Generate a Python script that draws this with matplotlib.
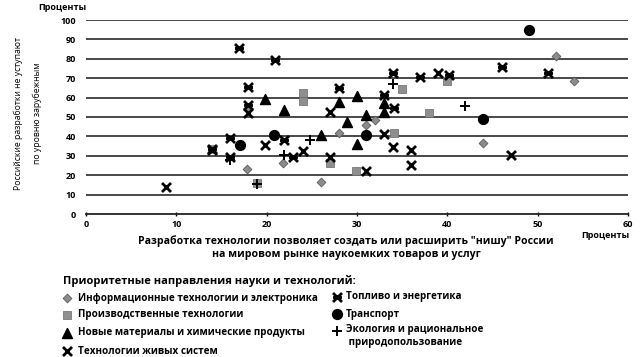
import matplotlib
matplotlib.use("Agg")
import matplotlib.pyplot as plt
from matplotlib.path import Path

plt.rcParams['font.family'] = ['Open Sans', 'DejaVu Sans']

# ---- data (x: niche %, y: not inferior %) ----
it_x = [17.8, 21.8, 26.0, 28.0, 31.0, 32.0, 44.0, 52.0, 54.0, 17.9]
it_y = [23.3, 26.2, 16.3, 41.7, 45.8, 48.6, 36.5, 81.7, 68.8, 54.0]

prod_x = [13.9, 18.9, 24.0, 24.0, 27.0, 29.9, 34.1, 35.0, 38.0, 40.0]
prod_y = [33.4, 16.2, 62.5, 58.5, 26.3, 22.4, 41.5, 64.6, 52.0, 68.4]

mat_x = [19.8, 21.9, 26.0, 28.0, 28.9, 30.0, 30.0, 31.0, 33.0, 33.0]
mat_y = [59.4, 53.4, 40.5, 57.5, 47.4, 61.0, 36.3, 51.2, 57.2, 52.6]

bio_x = [8.9, 14.0, 17.9, 19.8, 24.0, 27.0, 27.0, 31.0, 33.0, 34.0, 36.0, 36.0, 39.0, 47.0]
bio_y = [13.8, 33.0, 52.0, 35.5, 32.3, 52.6, 29.6, 22.3, 41.3, 34.6, 33.2, 25.5, 72.7, 30.5]

fuel_x = [16.9, 20.9, 17.9, 17.9, 15.9, 13.9, 15.9, 21.9, 22.9, 28.0, 33.0, 34.0, 34.1, 37.0, 40.2, 46.1, 51.1]
fuel_y = [85.5, 79.2, 65.4, 56.0, 39.3, 33.4, 29.5, 38.4, 29.3, 64.7, 61.5, 72.5, 54.6, 70.8, 71.5, 75.8, 72.7]

tr_x = [17.0, 20.8, 31.0, 44.0, 49.0]
tr_y = [35.7, 40.8, 40.6, 48.8, 94.7]

eco_x = [15.9, 18.9, 21.9, 24.8, 34.0, 42.0]
eco_y = [28.0, 15.5, 30.5, 38.4, 66.8, 55.8]

yticks = [0, 10, 20, 30, 40, 50, 60, 70, 80, 90, 100]
xticks = [0, 10, 20, 30, 40, 50, 60]

legend_left = ["Информационные технологии и электроника",
               "Производственные технологии",
               "Новые материалы и химические продукты",
               "Технологии живых систем"]
legend_right = ["Топливо и энергетика",
                "Транспорт",
                "Экология и рациональное\n природопользование"]

# ---- styles ----
fuel_marker = Path([(-1, -1), (1, 1), (-1, 1), (1, -1), (-1, 0), (1, 0)],
                   [Path.MOVETO, Path.LINETO, Path.MOVETO, Path.LINETO,
                    Path.MOVETO, Path.LINETO])

styles = {
    'it':   dict(marker='D', s=20, c='#8c8c8c', edgecolors='#5a5a5a', linewidths=0.6),
    'prod': dict(marker='s', s=38, c='#8f8f8f', edgecolors='#6a6a6a', linewidths=0.5),
    'mat':  dict(marker='^', s=52, c='black'),
    'bio':  dict(marker='x', s=42, c='black', linewidths=2.0),
    'fuel': dict(marker=fuel_marker, s=42, c='black', linewidths=2.0),
    'tr':   dict(marker='o', s=50, c='black'),
    'eco':  dict(marker='+', s=58, c='black', linewidths=1.4),
}

fig = plt.figure(figsize=(6.44, 3.57), dpi=100)
ax = fig.add_axes([86/644, 1-214/357, 542/644, 194/357])

for yv in yticks[1:]:
    ax.axhline(yv, color='#3a3a3a', lw=1.3, zorder=1)

ax.scatter(it_x, it_y, zorder=3, **styles['it'])
ax.scatter(prod_x, prod_y, zorder=3, **styles['prod'])
ax.scatter(mat_x, mat_y, zorder=3, **styles['mat'])
ax.scatter(bio_x, bio_y, zorder=3, **styles['bio'])
ax.scatter(fuel_x, fuel_y, zorder=3, **styles['fuel'])
ax.scatter(tr_x, tr_y, zorder=3, **styles['tr'])
ax.scatter(eco_x, eco_y, zorder=3, **styles['eco'])

ax.set_xlim(0, 60)
ax.set_ylim(0, 100)
ax.set_xticks(xticks)
ax.set_yticks(yticks)
for s in ['top', 'right', 'left']:
    ax.spines[s].set_visible(False)
ax.spines['bottom'].set_linewidth(1.3)
ax.spines['bottom'].set_color('#222222')
ax.tick_params(axis='y', length=0, pad=7, labelsize=6.5)
ax.tick_params(axis='x', length=3, direction='inout', width=1, pad=3, labelsize=6.5)
for lab in ax.get_xticklabels() + ax.get_yticklabels():
    lab.set_fontweight('bold')
ax.set_facecolor('none')

fig.text(62/644, 1-7/357, "Проценты", fontsize=6.5, fontweight='bold', ha='center', va='center')
fig.text(605/644, 1-236/357, "Проценты", fontsize=6.5, fontweight='bold', ha='center', va='center')
fig.text(346/644, 1-248/357, 'Разработка технологии позволяет создать или расширить "нишу" России\nна мировом рынке наукоемких товаров и услуг',
         fontsize=7.6, fontweight='bold', ha='center', va='center', linespacing=1.25)
fig.text(28/644, 1-113/357, "Российские разработки не уступают\nпо уровню зарубежным",
         fontsize=6.2, rotation=90, ha='center', va='center', linespacing=2.3)

# ---- legend ----
fig.text(63/644, 1-281/357, "Приоритетные направления науки и технологий:",
         fontsize=8, fontweight='bold', ha='left', va='center')

ov = fig.add_axes([0, 0, 1, 1], facecolor='none')
ov.set_axis_off()
ov.set_xlim(0, 644)
ov.set_ylim(357, 0)

LFS = 7.1
left_y = [298, 315, 333, 351]
for key, txt, yy in zip(['it', 'prod', 'mat', 'bio'], legend_left, left_y):
    ov.scatter([67], [yy], **styles[key])
    fig.text(78/644, 1-yy/357, txt, fontsize=LFS, fontweight='bold', ha='left', va='center')

right_y = [297, 314, 331]
for key, txt, yy in zip(['fuel', 'tr', 'eco'], legend_right, right_y):
    ov.scatter([337], [yy], **styles[key])
    if '\n' in txt:
        fig.text(346/644, 1-(yy-7)/357, txt, fontsize=LFS, fontweight='bold', ha='left', va='top', linespacing=1.3)
    else:
        fig.text(346/644, 1-yy/357, txt, fontsize=LFS, fontweight='bold', ha='left', va='center')

fig.savefig("out.png", dpi=100)
